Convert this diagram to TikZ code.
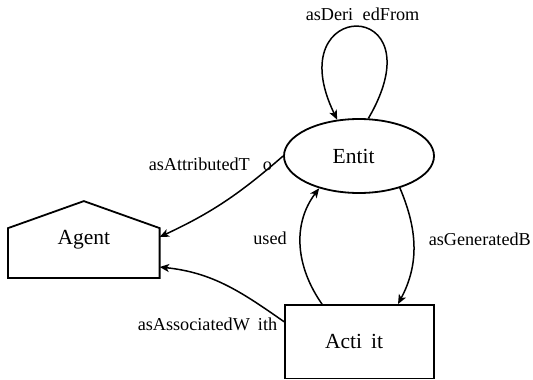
\documentclass[tikz,border=0pt]{standalone}
\usepackage{fontspec}
\setmainfont{Liberation Serif}
\usetikzlibrary{arrows.meta,shapes.geometric}

\tikzset{
  shapebox/.style={draw=black, line width=1.8bp, inner sep=0pt,
    font=\fontsize{21.5bp}{24bp}\selectfont},
  rel/.style={draw=black, line width=1.5bp,
    -{Stealth[length=9.5bp, width=8bp, inset=2.5bp]}},
  rellabel/.style={inner sep=0pt, font=\fontsize{18.2bp}{21bp}\selectfont}
}

\begin{document}
\begin{tikzpicture}[x=1bp, y=1bp]
  \useasboundingbox (0,0) rectangle (533,379);

  % entities, activities and agents
  \node[shapebox, ellipse, minimum width=150bp, minimum height=74bp]
    (entity) at (359,223) {Entit\kern10.75bp};
  \node[shapebox, rectangle, minimum width=149bp, minimum height=73.5bp]
    (activity) at (359.5,37.25) {Acti\kern9bp it\kern10.75bp};
  \node[shapebox, draw=none, minimum width=149.7bp, minimum height=75bp]
    (agent) at (83.85,139.5) {Agent};
  % house outline of the agent
  \draw[line width=1.8bp, line join=miter]
    (agent.south west) -- ([yshift=-27bp]agent.north west) -- (agent.north)
    -- ([yshift=-27bp]agent.north east) -- (agent.south east) -- cycle;

  % relations
  \draw[rel] (entity.76) .. controls +(72,123) and +(-60,123) .. (entity.121)
    node[rellabel, anchor=base west] at (305,359) {asDeri\hspace{9.5bp}edFrom};
  \draw[rel] (entity.west) to[out=221, in=25] ([yshift=2.5bp]agent.east)
    node[rellabel, anchor=base west] at (148,209) {asAttributedT\hspace{13bp}o};
  \draw[rel] ([yshift=20bp]activity.west) to[out=145, in=-6] ([yshift=-27.5bp]agent.east)
    node[rellabel, anchor=base west] at (137,49) {asAssociatedW\hspace{8bp}ith};
  \draw[rel] ([xshift=-37.5bp]activity.north) to[out=125, in=233] (entity.219)
    node[rellabel, anchor=base] at (270,134.7) {used};
  \draw[rel] (entity.322) to[out=293, in=62] ([xshift=38.5bp]activity.north)
    node[rellabel, anchor=base west] at (428,134) {asGeneratedB};
\end{tikzpicture}
\end{document}
